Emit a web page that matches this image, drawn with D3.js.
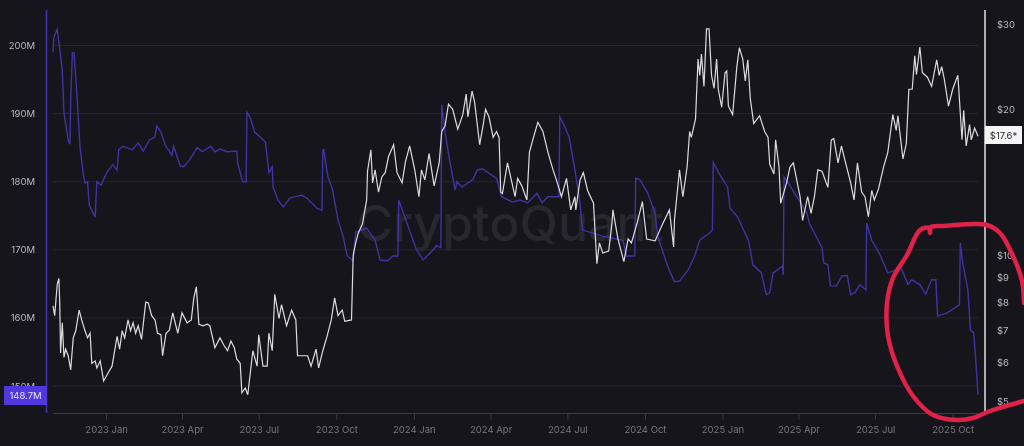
<!DOCTYPE html>
<html lang="en">
<head>
    <meta charset="utf-8">
    <script src='https://d3js.org/d3.v7.min.js'></script>
</head>
<body style="margin:0;background:#16151c;overflow:hidden">
<style>
svg { filter: blur(0.35px); }
svg text { font-family: Inter, sans-serif; }
.domain { display: none; }
</style>
<script>
// Series are stored as days since startDate + the value
var startDate = new Date(2022, 9, 30);

var priceDays = [
0,2,5,7,8,9,11,13,15,18,21,24,27,31,34,38,41,44,46,50,
52,56,60,65,70,76,79,82,85,89,92,95,98,101,105,110,113,117,121,124,
128,130,134,138,142,148,153,159,164,167,170,173,178,183,186,192,198,203,207,211,
215,218,222,224,228,231,237,242,244,249,254,256,260,263,268,271,277,283,288,290,
296,302,306,312,315,320,325,330,334,338,343,346,354,356,359,362,367,372,373,377,
379,382,386,390,394,398,404,408,414,418,423,429,434,437,441,446,452,458,461,465,
469,474,480,486,490,492,497,500,503,506,510,513,517,522,526,529,531,533,539,548,
551,556,562,565,569,575,581,587,593,597,603,609,614,619,620,625,629,634,641,645,
648,652,659,663,664,670,677,682,686,693,699,704,714,722,731,736,737,743,747,752,
755,757,762,765,767,769,772,775,778,781,784,787,789,793,797,799,801,806,811,814,
818,821,824,827,831,838,844,848,850,855,857,861,863,870,874,878,886,889,895,899,
903,907,912,919,923,926,931,935,940,946,950,954,959,963,967,971,974,979,985,990,
996,1000,1002,1008,1012,1015,1019,1022,1024,1028,1031,1037,1042,1048,1051,1054,1057,1062,1067,1073,
1074,1078,1080,1083,1087,1089,1093,1097];

var priceValues = [
7.86,7.5,8.7,8.95,7.97,6.28,7.25,6.15,6.4,6.2,5.8,6.75,6.98,7.7,7.35,6.98,6.75,6.9,5.98,6.05,
5.85,6.05,5.5,5.7,5.9,6.8,6.4,6.98,6.75,7.35,6.98,7.25,6.9,7.15,6.7,8.0,7.97,7.5,7.35,6.9,
6.85,6.2,6.9,7.0,7.6,6.9,7.6,7.25,7.35,8.16,8.6,7.2,7.15,7.2,7.15,6.44,6.75,6.5,6.35,6.65,
6.44,6.1,5.98,5.2,5.32,5.15,6.35,5.9,6.85,5.9,5.9,6.9,6.35,8.3,7.4,7.9,7.15,7.7,7.35,6.2,
6.2,6.2,5.9,6.4,5.85,6.35,6.8,7.35,8.16,7.5,7.7,7.3,7.35,10.0,10.6,11.1,11.6,13.0,14.9,16.5,
14.1,15,13.5,14.5,14.8,16,16.9,14.8,14.1,15.6,16.8,15,13.2,15,14.3,16.2,13.9,15.5,18,18.5,
20.5,20,18.2,19.5,21.5,19.3,21.8,20.7,18.7,16.9,18.5,20,19.3,17.5,18,17.5,13.5,13.4,15.5,13.2,
14.4,13.9,13,16.3,17.3,18.8,18,16.3,15,14.3,13.2,14.4,12.4,13.2,12.4,14.3,14.8,13.6,12.8,9.6,
10.6,10.1,10.2,11.7,12.4,10.8,9.7,10.8,10.6,11.7,12.9,10.8,10.7,11.5,12.4,10.4,11.8,15,13.2,15.2,
18,17.5,19.1,25.4,23.5,26,22.3,29.3,29.3,23.5,22.1,25.4,22,20.2,23.8,24,20.3,19.5,24.5,26.8,
25.4,22.9,25.3,21,18.7,19.4,18,17.5,15.4,14.7,17.3,15.2,12.8,14.1,15.2,15.5,13.2,11.8,13.2,12.2,
13.2,15,14.9,13.8,17.3,17.4,15.5,16.8,15.5,14.1,13,15.5,13.5,13.2,12,13.6,13,13.7,15.2,16.3,
19.5,18.1,19.4,15.8,17,22,22,25.8,23.6,26.9,23.8,23.3,22.3,25.3,23.5,24.5,23.1,20.3,22,23.5,
22.3,17.3,19.9,16.8,18.6,17.3,18.3,17.6];

var reserveDays = [
0,1,5,7,11,13,18,20,21,23,25,28,32,36,38,41,43,50,52,57,
64,71,76,78,83,94,101,107,114,121,123,128,133,141,143,151,155,162,171,177,
187,192,198,206,218,219,225,229,230,234,239,248,252,256,260,261,267,273,281,287,
295,301,313,319,320,321,326,331,338,344,349,356,359,372,382,388,397,403,409,410,
421,431,439,447,455,460,461,465,471,477,479,485,498,503,509,526,532,545,554,563,
574,580,587,600,601,605,612,619,625,628,652,676,680,690,691,696,705,714,717,729,
737,743,753,761,767,779,782,783,791,800,803,812,825,830,840,846,850,854,865,866,
867,871,882,894,897,912,914,919,922,929,936,942,946,951,957,964,965,971,980,990,
1006,1014,1018,1028,1035,1042,1047,1049,1060,1075,1076,1079,1085,1088,1092,1094,1097];

var reserveValues = [
199.0,201.2,202.4,200.5,196.4,190.1,186.1,185.5,192.0,198.9,198.9,193.5,185.1,181.0,179.8,180.0,176.6,174.8,180.0,179.5,
181.4,182.5,181.7,184.7,185.2,184.7,185.7,184.5,186.1,186.6,188.2,187.3,185.4,183.9,185.2,182.3,182.2,183.2,185.0,184.4,
185.2,184.4,184.8,184.4,184.5,182.7,180.0,180.0,190.2,189.4,187.3,186.3,185.8,181.3,182.2,179.2,177.3,176.3,177.6,177.8,
178.0,177.6,176.1,175.8,184.7,184.7,180.7,179.1,174.4,172.0,169.1,168.4,172.6,173.2,171.4,168.5,168.4,169.1,169.1,177.3,
173.5,170.0,168.5,169.5,170.6,170.3,191.3,187.2,182.7,178.8,180.0,179.2,180.3,181.7,181.9,180.5,177.8,177.0,177.3,176.9,
178.3,176.9,177.8,177.8,189.5,188.6,186.6,181.7,176.9,172.9,172.0,171.4,169.1,169.1,180.5,180.3,178.4,175.4,172.0,167.6,
165.3,165.4,167.0,169.1,171.4,172.5,172.9,182.8,181.0,179.2,176.1,174.8,171.3,167.8,166.6,163.4,163.7,166.6,167.6,166.3,
180.7,180.0,177.8,175.4,173.9,170.3,168.1,167.8,164.7,164.7,166.2,166.2,163.4,163.7,164.9,164.1,173.9,171.4,169.5,166.6,
167.3,164.9,165.6,164.9,163.5,165.6,165.6,160.3,160.7,161.9,171.0,168.0,164.1,158.2,157.8,154.4,148.7];

var leftTicks = [150, 160, 170, 180, 190, 200];
var rightTicks = [5, 6, 7, 8, 9, 10, 20, 30];
var monthTicks = ["2023-01-01","2023-04-01","2023-07-01","2023-10-01","2024-01-01","2024-04-01",
    "2024-07-01","2024-10-01","2025-01-01","2025-04-01","2025-07-01","2025-10-01"];
var lastReserve = "148.7M";
var lastPrice = "$17.6*";

var width = 1024;
var height = 446;
var plotLeft = 53;
var plotRight = 978;
var axisBottomY = 413.5;

var svg = d3.select("body").append("svg")
    .attr("width", width)
    .attr("height", height)
    .style("display", "block");

function dayToDate(d) { return d3.timeDay.offset(startDate, d); }
var parseDay = d3.timeParse("%Y-%m-%d");

var x = d3.scaleTime()
    .domain([startDate, dayToDate(1097)])
    .range([plotLeft, plotRight]);
var yLeft = d3.scaleLinear().domain([150, 200]).range([386, 45.5]);
var yRight = d3.scaleLog().domain([5, 30]).range([401, 24]);

// horizontal grid
svg.append("g").selectAll("line")
    .data(leftTicks)
    .enter().append("line")
    .attr("x1", plotLeft)
    .attr("x2", plotRight)
    .attr("y1", function(d) { return yLeft(d); })
    .attr("y2", function(d) { return yLeft(d); })
    .attr("stroke", "#26262d")
    .attr("stroke-width", 1);

// watermark
svg.append("text")
    .attr("x", 510)
    .attr("y", 241)
    .attr("text-anchor", "middle")
    .attr("font-size", 50)
    .attr("font-weight", 500)
    .attr("fill", "#27272e")
    .text("CryptoQuant");

// x axis
var xAxis = d3.axisBottom(x)
    .tickValues(monthTicks.map(parseDay))
    .tickSize(6)
    .tickPadding(7)
    .tickFormat(d3.timeFormat("%Y %b"));
var xG = svg.append("g")
    .attr("transform", "translate(0," + axisBottomY + ")")
    .call(xAxis);
xG.selectAll("line").attr("stroke", "#3c3c44");
xG.selectAll("text").attr("fill", "#77777f").attr("font-size", 9.5);
svg.append("line")
    .attr("x1", plotLeft)
    .attr("x2", plotRight)
    .attr("y1", axisBottomY)
    .attr("y2", axisBottomY)
    .attr("stroke", "#3c3c44");

// left axis
var leftG = svg.append("g")
    .attr("transform", "translate(35,0)")
    .call(d3.axisLeft(yLeft).tickValues(leftTicks).tickSize(0).tickPadding(0)
        .tickFormat(function(d) { return d + "M"; }));
leftG.selectAll("text").attr("fill", "#b9b9c0").attr("font-size", 9.5);
svg.append("line")
    .attr("x1", 46.5).attr("x2", 46.5).attr("y1", 10).attr("y2", 413)
    .attr("stroke", "#3f33a8").attr("stroke-width", 1.6);

// right axis
var rightG = svg.append("g")
    .attr("transform", "translate(997,0)")
    .call(d3.axisRight(yRight).tickValues(rightTicks).tickSize(0).tickPadding(0)
        .tickFormat(function(d) { return "$" + d; }));
rightG.selectAll("text").attr("fill", "#b9b9c0").attr("font-size", 9.5);
svg.append("line")
    .attr("x1", 985).attr("x2", 985).attr("y1", 10).attr("y2", 412)
    .attr("stroke", "#d5d5d8").attr("stroke-width", 1.6);

// series
var reserveLine = d3.line()
    .x(function(d, i) { return x(dayToDate(d)); })
    .y(function(d, i) { return yLeft(reserveValues[i]); });
var priceLine = d3.line()
    .x(function(d, i) { return x(dayToDate(d)); })
    .y(function(d, i) { return yRight(priceValues[i]); });

svg.append("path")
    .attr("d", reserveLine(reserveDays))
    .attr("fill", "none")
    .attr("stroke", "#3f34a3")
    .attr("stroke-width", 1.4);
svg.append("path")
    .attr("d", priceLine(priceDays))
    .attr("fill", "none")
    .attr("stroke", "#dcdcdf")
    .attr("stroke-width", 1.2);

// last value badges
svg.append("rect")
    .attr("x", 4).attr("y", 386).attr("width", 43).attr("height", 19)
    .attr("fill", "#5137e0");
svg.append("text")
    .attr("x", 25.5).attr("y", 399)
    .attr("text-anchor", "middle")
    .attr("font-size", 9.5)
    .attr("fill", "#e6e3ff")
    .text(lastReserve);
svg.append("rect")
    .attr("x", 985).attr("y", 126).attr("width", 37).attr("height", 18)
    .attr("fill", "#f4f4f5");
svg.append("text")
    .attr("x", 1003.5).attr("y", 138.5)
    .attr("text-anchor", "middle")
    .attr("font-size", 9.5)
    .attr("fill", "#26262c")
    .text(lastPrice);

// hand drawn red circle on top
var circlePts = [[1024,303],[1022,281],[1013,256],[1000,233],[987,225],[943,226],[931,227],[930,233],[929,228],
    [920,230],[907,255],[893,278],[887,303],[888,336],[897,366],[913,396],[933,415],[957,420],[973,418],[990,411],[1024,401]];
svg.append("path")
    .attr("d", d3.line().curve(d3.curveCatmullRom)(circlePts))
    .attr("fill", "none")
    .attr("stroke", "#e0214a")
    .attr("stroke-width", 4.5)
    .attr("stroke-linecap", "round");
</script>
</body>
</html>
